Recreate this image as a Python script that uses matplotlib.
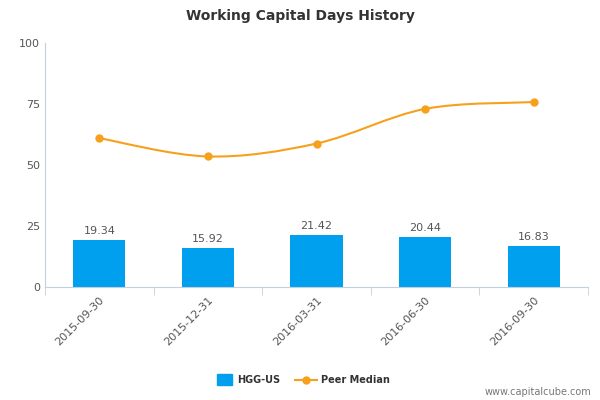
import numpy as np
import matplotlib
matplotlib.use("Agg")
import matplotlib.pyplot as plt
from matplotlib.path import Path
from matplotlib.patches import PathPatch

categories = ["2015-09-30", "2015-12-31", "2016-03-31", "2016-06-30", "2016-09-30"]
hgg_values = [19.34, 15.92, 21.42, 20.44, 16.83]
peer_median = [61.0, 53.5, 58.8, 73.0, 75.8]

bar_color = "#00a0ef"
line_color = "#f7a01c"
text_color = "#555555"

fig = plt.figure(figsize=(6, 4), dpi=100)
ax = fig.add_axes([0.075, 0.2825, 0.905, 0.61])

x = np.arange(len(categories))
bars = ax.bar(x, hgg_values, width=0.48, color=bar_color, zorder=2)
for xi, v in zip(x, hgg_values):
    ax.text(xi, v + 1.5, f"{v:.2f}", ha="center", va="bottom", fontsize=8, color=text_color)

# smooth line through the peer median points (Catmull-Rom -> cubic Bezier)
pts = np.column_stack([x, peer_median])
verts = [tuple(pts[0])]
codes = [Path.MOVETO]
for i in range(len(pts) - 1):
    p0 = pts[max(i - 1, 0)]
    p1, p2 = pts[i], pts[i + 1]
    p3 = pts[min(i + 2, len(pts) - 1)]
    c1 = p1 + (p2 - p0) / 6
    c2 = p2 - (p3 - p1) / 6
    verts += [tuple(c1), tuple(c2), tuple(p2)]
    codes += [Path.CURVE4] * 3
ax.add_patch(PathPatch(Path(verts, codes), facecolor="none", edgecolor=line_color, lw=1.5, zorder=3))
ax.plot(x, peer_median, "o", color=line_color, ms=5, zorder=4)

ax.set_xlim(-0.5, len(categories) - 0.5)
ax.set_ylim(0, 100)
ax.set_yticks([0, 25, 50, 75, 100])
ax.tick_params(axis="y", length=0, labelsize=8, labelcolor=text_color)
ax.set_xticks(x)
ax.set_xticklabels(categories, rotation=45, ha="right", rotation_mode="anchor", fontsize=8, color=text_color)
ax.tick_params(axis="x", length=0, pad=6)
ax.set_xticks(np.arange(-0.5, len(categories)), minor=True)
ax.tick_params(axis="x", which="minor", length=6, color="#c0d0e0")
for s in ["top", "right"]:
    ax.spines[s].set_visible(False)
ax.spines["left"].set_color("#c0d0e0")
ax.spines["bottom"].set_color("#c0d0e0")

fig.text(0.5, 0.96, "Working Capital Days History", ha="center", va="center",
         fontsize=10, fontweight="bold", color="#333333")

# legend
fig.patches.append(plt.Rectangle((0.362, 0.037), 0.025, 0.028, transform=fig.transFigure, color=bar_color))
fig.text(0.395, 0.05, "HGG-US", fontsize=7, fontweight="bold", color="#333333", va="center")
fig.lines.append(plt.Line2D([0.492, 0.528], [0.05, 0.05], transform=fig.transFigure, color=line_color, lw=1.5))
fig.lines.append(plt.Line2D([0.51], [0.05], transform=fig.transFigure, color=line_color, marker="o", ms=5))
fig.text(0.535, 0.05, "Peer Median", fontsize=7, fontweight="bold", color="#333333", va="center")
fig.text(0.985, 0.02, "www.capitalcube.com", ha="right", va="center", fontsize=7, color="#777777")

fig.savefig("out.png", dpi=100)
